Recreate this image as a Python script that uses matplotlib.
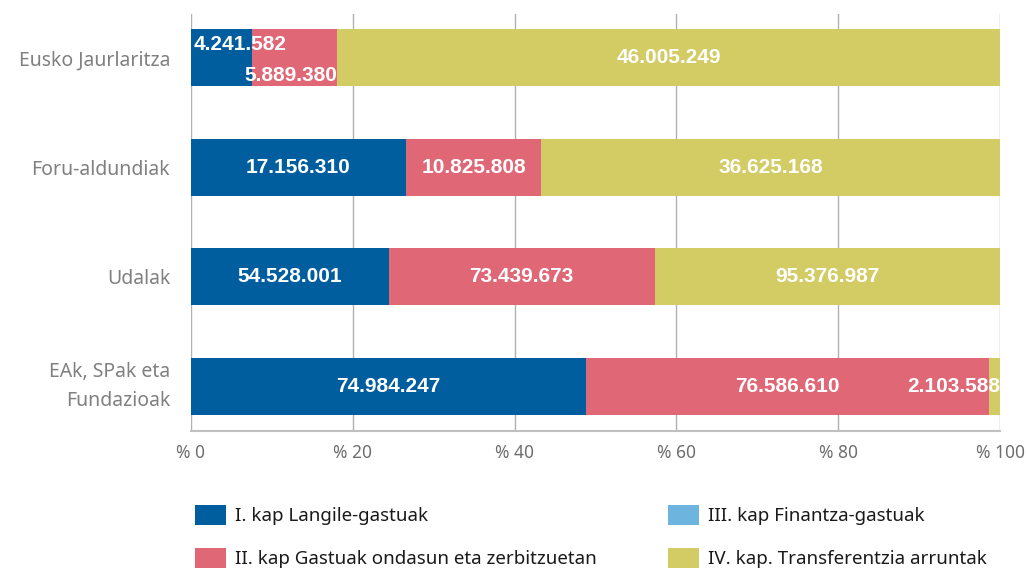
import matplotlib
matplotlib.use("Agg")
import matplotlib.pyplot as plt
from matplotlib.patches import Patch
from matplotlib.transforms import ScaledTranslation

plt.rcParams["font.family"] = ["Noto Sans", "DejaVu Sans"]

kategoriak = ["Eusko Jaurlaritza", "Foru-aldundiak", "Udalak",
              "EAk, SPak eta\nFundazioak"]
kap1 = [4241582, 17156310, 54528001, 74984247]
kap2 = [5889380, 10825808, 73439673, 76586610]
kap3 = [0, 0, 0, 0]
kap4 = [46005249, 36625168, 95376987, 2103588]
izenak = ["I. kap Langile-gastuak", "II. kap Gastuak ondasun eta zerbitzuetan",
          "III. kap Finantza-gastuak", "IV. kap. Transferentzia arruntak"]
koloreak = ["#015e9e", "#e06876", "#6db5de", "#d3cc65"]
ticks = [0, 20, 40, 60, 80, 100]


def puntuak(n):
    return f"{n:,}".replace(",", ".")


fig = plt.figure(figsize=(10.28, 5.71), dpi=100)
ax = fig.add_axes([191 / 1028, 1 - 431 / 571, 809 / 1028, 417 / 571])

seriak = [kap1, kap2, kap3, kap4]
guztira = [sum(s[i] for s in seriak) for i in range(len(kategoriak))]
ezker = [0.0] * len(kategoriak)
for j, s in enumerate(seriak):
    pct = [100 * v / t for v, t in zip(s, guztira)]
    ax.barh(range(len(kategoriak)), pct, left=ezker, height=0.52,
            color=koloreak[j], zorder=2)
    for i, (v, p) in enumerate(zip(s, pct)):
        if v == 0:
            continue
        x = ezker[i] + p / 2
        ha = "center"
        dy = 0
        # etiketa txikiak barraren barruan mantendu
        if p < 8 and j == 0:
            x, ha = 0.3, "left"
        elif p < 8:
            x, ha = 100, "right"
        if i == 0 and j == 0:
            dy = -0.12
        if i == 0 and j == 1:
            x, ha, dy = ezker[i] + p, "right", 0.16
        ax.text(x, i + dy, puntuak(v), ha=ha, va="center", color="white",
                fontsize=15, fontweight="bold",
                family=["Liberation Sans", "DejaVu Sans"], zorder=3)
    ezker = [a + b for a, b in zip(ezker, pct)]

ax.set_xlim(0, 100)
ax.set_ylim(3.41, -0.4)
ax.set_xticks(ticks)
ax.set_xticklabels([f"% {t}" for t in ticks], fontsize=12.5, color="#6e6e6e")
ax.set_yticks(range(len(kategoriak)))
ax.set_yticklabels(kategoriak, fontsize=14, color="#808080", linespacing=1.6)
ax.tick_params(axis="x", length=0, pad=9)
ax.tick_params(axis="y", length=0, pad=15)
azken = ax.get_yticklabels()[-1]
azken.set_transform(azken.get_transform()
                    + ScaledTranslation(0, 5 / 72, fig.dpi_scale_trans))
ax.grid(axis="x", color="#b0b0b0", linewidth=1, zorder=0)
for s in ["top", "right", "left"]:
    ax.spines[s].set_visible(False)
ax.spines["bottom"].set_color("#c0c0c0")
ax.spines["bottom"].set_linewidth(1.5)

kutxak = [Patch(facecolor=c) for c in koloreak]
for k, x0 in enumerate([195, 668]):
    fig.legend(kutxak[2 * k:2 * k + 2], izenak[2 * k:2 * k + 2],
               loc="upper left", bbox_to_anchor=(x0 / 1028, 1 - 505 / 571),
               frameon=False, fontsize=13.5, labelcolor="#1a1a1a",
               handlelength=1.65, handleheight=1.23, handletextpad=0.5,
               labelspacing=1.23, borderpad=0, borderaxespad=0)

fig.savefig("out.png", dpi=100)
